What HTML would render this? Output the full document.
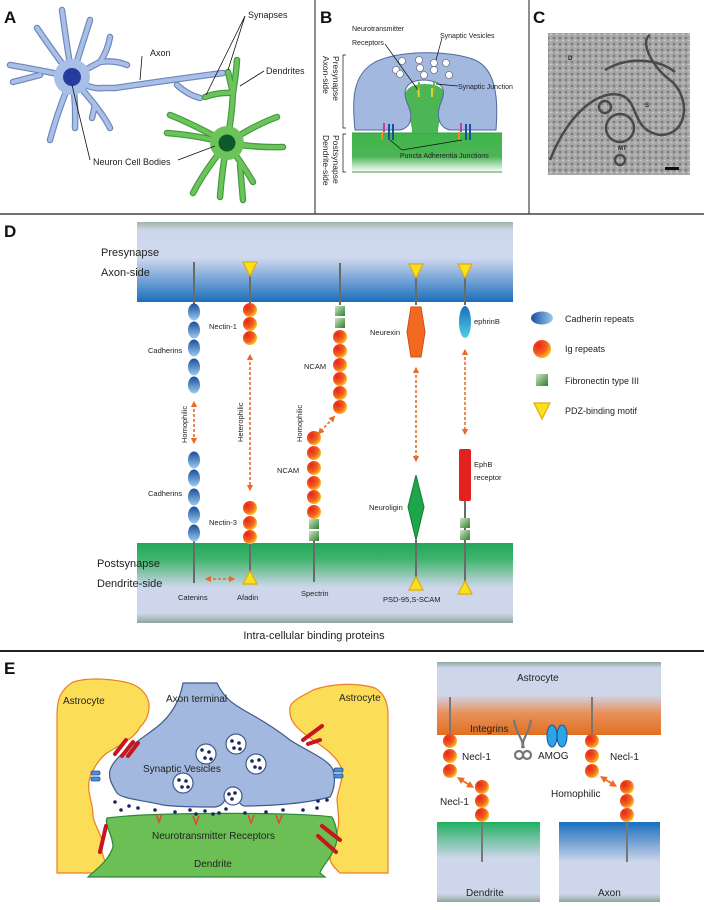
<!DOCTYPE html>
<html><head><meta charset="utf-8"><style>
html,body{margin:0;padding:0;background:#fff}
svg{display:block}
text{font-family:"Liberation Sans",sans-serif;fill:#222}
.L{font-weight:bold;font-size:17px;fill:#111}
</style></head><body>
<svg width="704" height="910" viewBox="0 0 704 910" xmlns="http://www.w3.org/2000/svg">
<defs>
<linearGradient id="topband" x1="0" y1="0" x2="0" y2="1">
<stop offset="0" stop-color="#9fb3a8"/><stop offset="0.1" stop-color="#cdd6ea"/><stop offset="0.45" stop-color="#cfd8ee"/><stop offset="1" stop-color="#1a6ebd"/></linearGradient>
<linearGradient id="botband" x1="0" y1="0" x2="0" y2="1">
<stop offset="0" stop-color="#22a75a"/><stop offset="0.2" stop-color="#3fb46c"/><stop offset="0.55" stop-color="#cdd6ea"/><stop offset="0.88" stop-color="#cdd6ea"/><stop offset="1" stop-color="#8fa69a"/></linearGradient>
<radialGradient id="ig" cx="0.3" cy="0.3" r="0.8"><stop offset="0" stop-color="#e8241c"/><stop offset="0.6" stop-color="#f2641c"/><stop offset="1" stop-color="#fbd22a"/></radialGradient>
<linearGradient id="cad" x1="0" y1="0" x2="0" y2="1"><stop offset="0" stop-color="#1b4e9c"/><stop offset="1" stop-color="#9ccbee"/></linearGradient>
<linearGradient id="cadh" x1="0" y1="0" x2="1" y2="0"><stop offset="0" stop-color="#1b4e9c"/><stop offset="1" stop-color="#9ccbee"/></linearGradient>
<linearGradient id="fn" x1="0" y1="0" x2="1" y2="1"><stop offset="0" stop-color="#cfe6c4"/><stop offset="1" stop-color="#2e7d32"/></linearGradient>
<linearGradient id="eph" x1="0" y1="0" x2="0" y2="1"><stop offset="0" stop-color="#1a6ebd"/><stop offset="1" stop-color="#4fd0e8"/></linearGradient>
<linearGradient id="bgreen" x1="0" y1="0" x2="0" y2="1"><stop offset="0" stop-color="#3fb54a"/><stop offset="0.6" stop-color="#4cb556"/><stop offset="1" stop-color="#ffffff"/></linearGradient>
<linearGradient id="astro" x1="0" y1="0" x2="0" y2="1"><stop offset="0" stop-color="#8fa69a"/><stop offset="0.08" stop-color="#cdd6ea"/><stop offset="0.45" stop-color="#cfd6ea"/><stop offset="0.7" stop-color="#e8905a"/><stop offset="1" stop-color="#e07020"/></linearGradient>
<linearGradient id="dend" x1="0" y1="0" x2="0" y2="1"><stop offset="0" stop-color="#1fb060"/><stop offset="0.45" stop-color="#cdd6ea"/><stop offset="0.9" stop-color="#cdd6ea"/><stop offset="1" stop-color="#8fa69a"/></linearGradient>
<linearGradient id="axn" x1="0" y1="0" x2="0" y2="1"><stop offset="0" stop-color="#1a6ebd"/><stop offset="0.5" stop-color="#cdd6ea"/><stop offset="0.9" stop-color="#cdd6ea"/><stop offset="1" stop-color="#8fa69a"/></linearGradient>
<pattern id="em" width="6" height="6" patternUnits="userSpaceOnUse"><rect width="6" height="6" fill="#a8a8a8"/><circle cx="2" cy="2" r="1.3" fill="#7a7a7a"/><circle cx="5" cy="4.5" r="0.9" fill="#cfcfcf"/></pattern>
<marker id="ah" viewBox="0 0 10 10" refX="5" refY="5" markerWidth="4" markerHeight="4" orient="auto-start-reverse"><path d="M0,0L10,5L0,10z" fill="#ec6a26"/></marker>
</defs>

<line x1="0" y1="214" x2="704" y2="214" stroke="#444" stroke-width="1.5"/>
<line x1="315" y1="0" x2="315" y2="214" stroke="#444" stroke-width="1.2"/>
<line x1="529" y1="0" x2="529" y2="214" stroke="#444" stroke-width="1.2"/>
<line x1="0" y1="651" x2="704" y2="651" stroke="#222" stroke-width="2"/>

<!-- Panel A -->
<text x="4" y="23" class="L">A</text>
<g stroke-linecap="round" stroke-linejoin="round" fill="none">
 <g stroke="#6f86b8" stroke-width="6.5">
  <path d="M72,77 Q66,40 62,10 M72,77 Q82,45 90,20 M72,77 Q52,50 37,28 M72,77 L100,62 Q108,50 110,37 M100,62 Q115,60 127,65 M72,77 Q40,70 10,65 M40,75 L13,82 M72,77 Q58,110 50,140 M72,77 Q76,100 75,128 M72,77 L95,105 Q105,118 110,128 M95,105 L92,118 M72,77 Q90,90 103,88 L115,88 Q170,80 223,73 M177,85 Q188,95 200,98"/>
 </g>
 <g stroke="#a8bfe8" stroke-width="4.2">
  <path d="M72,77 Q66,40 62,10 M72,77 Q82,45 90,20 M72,77 Q52,50 37,28 M72,77 L100,62 Q108,50 110,37 M100,62 Q115,60 127,65 M72,77 Q40,70 10,65 M40,75 L13,82 M72,77 Q58,110 50,140 M72,77 Q76,100 75,128 M72,77 L95,105 Q105,118 110,128 M95,105 L92,118 M72,77 Q90,90 103,88 L115,88 Q170,80 223,73 M177,85 Q188,95 200,98"/>
 </g>
 <g stroke="#3f9a3f" stroke-width="6.5">
  <path d="M227,143 Q232,115 233,93 Q236,75 237,60 M233,93 L228,72 M233,93 Q218,92 205,97 M227,143 Q195,125 170,115 M227,143 Q195,135 167,133 M227,143 Q255,125 277,117 M227,143 Q258,148 283,147 M227,143 Q205,170 193,193 M227,143 Q222,170 220,197 M227,143 Q243,165 253,182 M240,165 L243,200"/>
 </g>
 <g stroke="#6cc35a" stroke-width="4.2">
  <path d="M227,143 Q232,115 233,93 Q236,75 237,60 M233,93 L228,72 M233,93 Q218,92 205,97 M227,143 Q195,125 170,115 M227,143 Q195,135 167,133 M227,143 Q255,125 277,117 M227,143 Q258,148 283,147 M227,143 Q205,170 193,193 M227,143 Q222,170 220,197 M227,143 Q243,165 253,182 M240,165 L243,200"/>
 </g>
</g>
<circle cx="72" cy="77" r="18" fill="#a8bfe8"/>
<circle cx="72" cy="77" r="9" fill="#283c9c"/>
<circle cx="227" cy="143" r="17" fill="#6cc35a"/>
<circle cx="227" cy="143" r="8.5" fill="#0f5a2a"/>
<g stroke="#111" stroke-width="0.8" fill="none">
 <path d="M245,16 L228,70 M245,16 L206,95 M142,56 L140,80 M264,71 L240,86 M90,160 L72,85 M178,160 L215,146"/>
</g>
<g font-size="9">
<text x="248" y="18">Synapses</text>
<text x="150" y="56">Axon</text>
<text x="266" y="74">Dendrites</text>
<text x="93" y="165">Neuron Cell Bodies</text>
</g>

<!-- Panel B -->
<text x="320" y="23" class="L">B</text>
<rect x="352" y="133" width="150" height="39" fill="url(#bgreen)"/>
<line x1="352" y1="172" x2="502" y2="172" stroke="#3a9a40"/>
<line x1="352" y1="133" x2="502" y2="133" stroke="#3a9a40"/>
<path d="M412,133 C412,118 404,110 404,100 C404,90 410,84 425,84 C440,84 446,90 446,100 C446,110 438,118 438,133 Z" fill="#4cb556"/>
<path d="M355,130 C352,100 352,75 375,62 C400,50 450,50 475,60 C498,70 498,105 496,130 L450,130 C440,128 436,118 440,105 C446,92 446,82 425,80 C404,80 402,92 408,105 C414,118 410,128 400,130 Z" fill="#a3b8de" stroke="#4f6a9a" stroke-width="1"/>
<g fill="#fff" stroke="#556" stroke-width="0.6">
<circle cx="402" cy="61" r="3.5"/><circle cx="419" cy="60" r="3.5"/><circle cx="434" cy="63" r="3.5"/><circle cx="396" cy="70" r="3.5"/><circle cx="434" cy="70" r="3.5"/><circle cx="420" cy="68" r="3.5"/><circle cx="400" cy="74" r="3.5"/><circle cx="424" cy="75" r="3.5"/><circle cx="449" cy="75" r="3.5"/><circle cx="446" cy="63" r="3.5"/>
</g>
<g stroke-width="2"><line x1="419" y1="82" x2="419" y2="92" stroke="#6cbb4a"/><line x1="434" y1="82" x2="434" y2="92" stroke="#6cbb4a"/><line x1="418" y1="88" x2="419" y2="97" stroke="#e5d02a"/><line x1="432" y1="88" x2="432" y2="97" stroke="#e5d02a"/></g>
<g stroke-width="2"><line x1="384" y1="123" x2="384" y2="132" stroke="#c03ea0"/><line x1="382" y1="132" x2="382" y2="140" stroke="#f08a20"/><line x1="389" y1="124" x2="389" y2="140" stroke="#1c4ea0"/><line x1="393" y1="124" x2="393" y2="140" stroke="#1c4ea0"/>
<line x1="461" y1="123" x2="461" y2="132" stroke="#c03ea0"/><line x1="459" y1="132" x2="459" y2="140" stroke="#f08a20"/><line x1="466" y1="124" x2="466" y2="140" stroke="#1c4ea0"/><line x1="470" y1="124" x2="470" y2="140" stroke="#1c4ea0"/></g>
<g stroke="#111" stroke-width="0.7" fill="none">
<path d="M385,44 L418,90 M442,38 L436,60 M458,86 L436,84 M402,150 L390,140 M402,150 L462,140"/>
<path d="M346,55 L343,55 L343,128 L346,128 M346,134 L343,134 L343,172 L346,172"/>
</g>
<g font-size="7">
<text x="352" y="31">Neurotransmitter</text>
<text x="352" y="45">Receptors</text>
<text x="440" y="38">Synaptic Vesicles</text>
<text x="458" y="89">Synaptic Junction</text>
<text x="400" y="158">Puncta Adherentia Junctions</text>
</g>
<g font-size="8.5">
<text transform="translate(333,56) rotate(90)">Presynapse</text>
<text transform="translate(323,56) rotate(90)">Axon-side</text>
<text transform="translate(333,135) rotate(90)">Postsynapse</text>
<text transform="translate(323,135) rotate(90)">Dendrite-side</text>
</g>

<!-- Panel C -->
<text x="533" y="23" class="L">C</text>
<rect x="548" y="33" width="142" height="142" fill="url(#em)"/>
<g fill="none" stroke="#4a4a4a" stroke-width="2.5">
<path d="M550,160 C570,110 600,90 620,95 C640,100 630,130 660,135 C690,135 690,95 670,80 C650,65 640,40 650,35"/>
<path d="M605,70 C630,55 660,60 675,72"/>
<circle cx="620" cy="128" r="14"/><circle cx="605" cy="107" r="6"/><circle cx="620" cy="160" r="5"/>
</g>
<rect x="665" y="167" width="14" height="3" fill="#111"/>
<g font-size="6" font-weight="bold"><text x="568" y="60">D</text><text x="645" y="107">S</text><text x="618" y="150">MT</text></g>

<!-- Panel D -->
<text x="4" y="237" class="L">D</text>
<rect x="137" y="222" width="376" height="80" fill="url(#topband)"/>
<rect x="137" y="543" width="376" height="80" fill="url(#botband)"/>
<g font-size="11"><text x="101" y="256">Presynapse</text><text x="101" y="276">Axon-side</text>
<text x="97" y="567">Postsynapse</text><text x="97" y="587">Dendrite-side</text></g>
<g stroke="#6a6a6a" stroke-width="2">
<line x1="194" y1="262" x2="194" y2="305"/><line x1="194" y1="540" x2="194" y2="583"/>
<line x1="250" y1="268" x2="250" y2="305"/><line x1="250" y1="540" x2="250" y2="578"/>
<line x1="340" y1="263" x2="340" y2="305"/><line x1="314" y1="540" x2="314" y2="582"/>
<line x1="416" y1="268" x2="416" y2="305"/><line x1="416" y1="540" x2="416" y2="580"/>
<line x1="465" y1="268" x2="465" y2="305"/><line x1="465" y1="500" x2="465" y2="584"/>
</g>
<g fill="#f9e21a" stroke="#e5a812" stroke-width="1.2">
<path d="M243,262 L257,262 L250,276 Z"/><path d="M409,264 L423,264 L416,278 Z"/><path d="M458,264 L472,264 L465,278 Z"/>
<path d="M243,584 L257,584 L250,571 Z"/><path d="M409,590 L423,590 L416,577 Z"/><path d="M458,594 L472,594 L465,581 Z"/>
</g>
<g fill="url(#cad)">
<ellipse cx="194" cy="312" rx="6" ry="8.5"/><ellipse cx="194" cy="330" rx="6" ry="8.5"/><ellipse cx="194" cy="348" rx="6" ry="8.5"/><ellipse cx="194" cy="367" rx="6" ry="8.5"/><ellipse cx="194" cy="385" rx="6" ry="8.5"/>
<ellipse cx="194" cy="460" rx="6" ry="8.5"/><ellipse cx="194" cy="478" rx="6" ry="8.5"/><ellipse cx="194" cy="497" rx="6" ry="8.5"/><ellipse cx="194" cy="515" rx="6" ry="8.5"/><ellipse cx="194" cy="533" rx="6" ry="8.5"/>
</g>
<g fill="url(#ig)">
<circle cx="250" cy="310" r="7"/><circle cx="250" cy="324" r="7"/><circle cx="250" cy="338" r="7"/>
<circle cx="250" cy="508" r="7"/><circle cx="250" cy="523" r="7"/><circle cx="250" cy="537" r="7"/>
<circle cx="340" cy="337" r="7"/><circle cx="340" cy="351" r="7"/><circle cx="340" cy="365" r="7"/><circle cx="340" cy="379" r="7"/><circle cx="340" cy="393" r="7"/><circle cx="340" cy="407" r="7"/>
<circle cx="314" cy="438" r="7"/><circle cx="314" cy="453" r="7"/><circle cx="314" cy="468" r="7"/><circle cx="314" cy="483" r="7"/><circle cx="314" cy="497" r="7"/><circle cx="314" cy="512" r="7"/>
<circle cx="542" cy="349" r="9"/>
</g>
<g fill="url(#fn)">
<rect x="335" y="306" width="10" height="10"/><rect x="335" y="318" width="10" height="10"/>
<rect x="309" y="519" width="10" height="10"/><rect x="309" y="531" width="10" height="10"/>
<rect x="460" y="518" width="10" height="10"/><rect x="460" y="530" width="10" height="10"/>
<rect x="536" y="374" width="12" height="12"/>
</g>
<path d="M411,307 L421,307 L425,332 L421,357 L411,357 L407,332 Z" fill="#f26a22" stroke="#d44a10"/>
<path d="M416,475 L424,507 L416,540 L408,507 Z" fill="#1ea64a" stroke="#127a32"/>
<ellipse cx="465" cy="322" rx="6" ry="16" fill="url(#eph)"/>
<rect x="459" y="449" width="12" height="52" rx="2" fill="#e3211f"/>
<ellipse cx="542" cy="318" rx="11" ry="6.5" fill="url(#cadh)"/>
<path d="M534,403 L550,403 L542,419 Z" fill="#f9e21a" stroke="#e5a812" stroke-width="1.2"/>
<g stroke="#ec6a26" stroke-width="1.6" stroke-dasharray="3,2" marker-start="url(#ah)" marker-end="url(#ah)">
<line x1="194" y1="404" x2="194" y2="441"/>
<line x1="250" y1="357" x2="250" y2="488"/>
<line x1="333" y1="418" x2="320" y2="432"/>
<line x1="416" y1="370" x2="416" y2="459"/>
<line x1="465" y1="352" x2="465" y2="432"/>
<line x1="208" y1="579" x2="232" y2="579"/>
</g>
<g font-size="7.5">
<text x="148" y="353">Cadherins</text><text x="148" y="496">Cadherins</text>
<text x="209" y="329">Nectin-1</text><text x="209" y="525">Nectin-3</text>
<text x="304" y="369">NCAM</text><text x="277" y="473">NCAM</text>
<text x="370" y="335">Neurexin</text><text x="369" y="510">Neuroligin</text>
<text x="474" y="324">ephrinB</text><text x="474" y="467">EphB</text><text x="474" y="480">receptor</text>
<text transform="translate(187,443) rotate(-90)">Homophilic</text>
<text transform="translate(243,442) rotate(-90)">Heterophilic</text>
<text transform="translate(302,442) rotate(-90)">Homophilic</text>
<text x="178" y="600">Catenins</text><text x="237" y="600">Afadin</text><text x="301" y="596">Spectrin</text><text x="383" y="602">PSD-95,S-SCAM</text>
</g>
<g font-size="9"><text x="565" y="322">Cadherin repeats</text><text x="565" y="352">Ig repeats</text><text x="565" y="384">Fibronectin type III</text><text x="565" y="414">PDZ-binding motif</text></g>
<text x="314" y="639" font-size="11" text-anchor="middle">Intra-cellular binding proteins</text>

<!-- Panel E left -->
<text x="4" y="674" class="L">E</text>
<path d="M73,682 C60,690 57,700 57,715 L57,873 L110,873 C104,860 100,850 102,840 C98,828 92,820 93,813 C92,800 86,790 90,777 C95,765 100,758 107,753 C120,745 135,738 140,727 C150,718 150,705 148,700 C145,690 135,684 125,682 C105,678 85,678 73,682 Z" fill="#fbdd58" stroke="#ec7e22" stroke-width="1.2"/>
<path d="M313,690 C305,695 292,700 290,707 C289,715 292,722 297,727 C305,736 318,743 327,750 C336,758 342,765 342,773 C342,785 337,792 337,800 C338,812 340,822 337,833 C335,845 330,852 330,860 C332,866 337,870 340,873 L388,873 L388,715 C388,700 382,692 375,688 C355,682 330,684 313,690 Z" fill="#fbdd58" stroke="#ec7e22" stroke-width="1.2"/>
<path d="M107,818 C150,812 300,812 332,817 C338,828 338,840 335,847 C330,860 322,866 320,873 L325,877 L88,877 C95,870 108,862 113,847 C113,835 104,825 107,818 Z" fill="#6bbf55" stroke="#2a8a3a" stroke-width="1.2"/>
<path d="M183,683 L205,683 L217,683 C225,700 235,705 247,712 C265,722 280,732 290,740 C305,750 330,760 333,770 C336,780 334,790 330,797 C300,805 260,806 245,806 C240,806 238,800 236,796 C236,790 228,790 226,796 C225,802 222,806 215,807 C190,807 170,806 163,805 C140,800 120,798 117,793 C112,785 108,778 110,770 C115,755 140,740 157,727 C172,715 180,700 183,683 Z" fill="#a3b8de" stroke="#3f5a8e" stroke-width="1.2"/>
<g fill="#fff" stroke="#3f5a8e" stroke-width="1.2">
<circle cx="206" cy="754" r="10"/><circle cx="236" cy="744" r="10"/><circle cx="256" cy="764" r="10"/><circle cx="183" cy="783" r="10"/><circle cx="233" cy="796" r="9"/>
</g>
<g fill="#1c2460">
<circle cx="202" cy="750" r="1.8"/><circle cx="209" cy="752" r="1.8"/><circle cx="205" cy="758" r="1.8"/><circle cx="211" cy="759" r="1.8"/>
<circle cx="232" cy="741" r="1.8"/><circle cx="239" cy="743" r="1.8"/><circle cx="234" cy="748" r="1.8"/><circle cx="240" cy="749" r="1.8"/>
<circle cx="252" cy="761" r="1.8"/><circle cx="259" cy="760" r="1.8"/><circle cx="255" cy="767" r="1.8"/><circle cx="260" cy="768" r="1.8"/>
<circle cx="179" cy="780" r="1.8"/><circle cx="186" cy="781" r="1.8"/><circle cx="182" cy="787" r="1.8"/><circle cx="188" cy="787" r="1.8"/>
<circle cx="229" cy="794" r="1.8"/><circle cx="235" cy="793" r="1.8"/><circle cx="232" cy="799" r="1.8"/>
<circle cx="115" cy="802" r="1.8"/><circle cx="121" cy="810" r="1.8"/><circle cx="129" cy="806" r="1.8"/><circle cx="138" cy="808" r="1.8"/><circle cx="155" cy="810" r="1.8"/><circle cx="175" cy="812" r="1.8"/><circle cx="190" cy="810" r="1.8"/><circle cx="196" cy="814" r="1.8"/><circle cx="205" cy="811" r="1.8"/><circle cx="213" cy="814" r="1.8"/><circle cx="219" cy="813" r="1.8"/><circle cx="226" cy="809" r="1.8"/><circle cx="245" cy="813" r="1.8"/><circle cx="266" cy="812" r="1.8"/><circle cx="283" cy="810" r="1.8"/><circle cx="303" cy="810" r="1.8"/><circle cx="317" cy="808" r="1.8"/><circle cx="327" cy="800" r="1.8"/><circle cx="318" cy="801" r="1.8"/>
</g>
<g stroke="#e1453a" stroke-width="1.5" fill="none">
<path d="M156,814 l3,8 l3,-8"/><path d="M193,816 l3,8 l3,-8"/><path d="M248,815 l3,8 l3,-8"/><path d="M276,815 l3,8 l3,-8"/>
</g>
<g stroke="#c8161e" stroke-width="4" stroke-linecap="round">
<line x1="115" y1="754" x2="126" y2="740"/><line x1="122" y1="756" x2="133" y2="742"/><line x1="128" y1="756" x2="138" y2="743"/>
<line x1="308" y1="744" x2="320" y2="740"/><line x1="303" y1="740" x2="322" y2="726"/>
<line x1="106" y1="826" x2="100" y2="852"/>
<line x1="322" y1="826" x2="340" y2="840"/><line x1="318" y1="836" x2="336" y2="852"/>
</g>
<g fill="#4a8fd8" stroke="#1f4f9a" stroke-width="0.8"><rect x="91" y="771" width="9" height="4" rx="1.5"/><rect x="91" y="777" width="9" height="4" rx="1.5"/><rect x="334" y="768" width="9" height="4" rx="1.5"/><rect x="334" y="774" width="9" height="4" rx="1.5"/></g>
<g font-size="10">
<text x="63" y="704">Astrocyte</text><text x="166" y="702">Axon terminal</text><text x="339" y="701">Astrocyte</text>
<text x="143" y="772">Synaptic Vesicles</text><text x="152" y="839">Neurotransmitter Receptors</text><text x="194" y="867">Dendrite</text>
</g>

<!-- Panel E right -->
<rect x="437" y="662" width="224" height="73" fill="url(#astro)"/>
<rect x="437" y="822" width="103" height="80" fill="url(#dend)"/>
<rect x="559" y="822" width="101" height="80" fill="url(#axn)"/>
<g stroke="#777" stroke-width="2">
<line x1="450" y1="697" x2="450" y2="740"/><line x1="482" y1="815" x2="482" y2="862"/>
<line x1="592" y1="697" x2="592" y2="740"/><line x1="627" y1="815" x2="627" y2="862"/>
</g>
<g fill="url(#ig)">
<circle cx="450" cy="741" r="7"/><circle cx="450" cy="756" r="7"/><circle cx="450" cy="771" r="7"/>
<circle cx="482" cy="787" r="7"/><circle cx="482" cy="801" r="7"/><circle cx="482" cy="815" r="7"/>
<circle cx="592" cy="741" r="7"/><circle cx="592" cy="756" r="7"/><circle cx="592" cy="771" r="7"/>
<circle cx="627" cy="787" r="7"/><circle cx="627" cy="801" r="7"/><circle cx="627" cy="815" r="7"/>
</g>
<g stroke="#ec6a26" stroke-width="1.8" marker-start="url(#ah)" marker-end="url(#ah)">
<line x1="460" y1="779" x2="471" y2="786"/><line x1="603" y1="778" x2="614" y2="785"/>
</g>
<g fill="none" stroke="#777" stroke-width="2.2"><path d="M514,720 C516,735 525,740 522,748 M531,720 C529,735 520,740 524,748"/><circle cx="519" cy="755" r="4"/><circle cx="527" cy="755" r="4"/></g>
<g fill="#2aa6e6" stroke="#1b4e9c"><ellipse cx="552" cy="736" rx="5" ry="11"/><ellipse cx="562" cy="736" rx="5" ry="11"/></g>
<g font-size="10">
<text x="517" y="681">Astrocyte</text><text x="470" y="732">Integrins</text><text x="538" y="759">AMOG</text>
<text x="462" y="760">Necl-1</text><text x="610" y="760">Necl-1</text><text x="440" y="805">Necl-1</text><text x="551" y="797">Homophilic</text>
<text x="466" y="896">Dendrite</text><text x="598" y="896">Axon</text>
</g>
</svg>
</body></html>
